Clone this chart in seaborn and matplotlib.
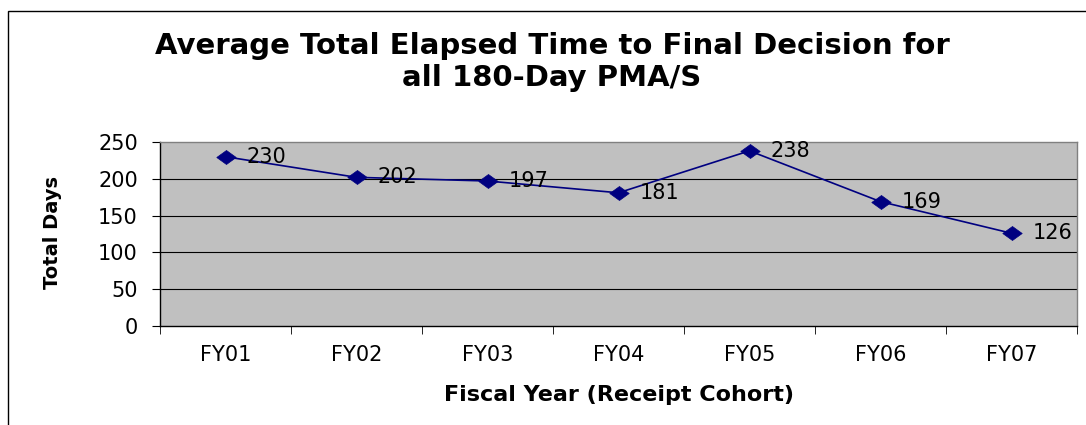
import matplotlib
matplotlib.use("Agg")
import matplotlib.pyplot as plt
import seaborn as sns
import pandas as pd
import numpy as np
from matplotlib.patches import Rectangle

years = ["FY01", "FY02", "FY03", "FY04", "FY05", "FY06", "FY07"]
total_days = [230, 202, 197, 181, 238, 169, 126]

df = pd.DataFrame({"year": years, "days": total_days})
df["pos"] = np.arange(len(years))

sns.set_style("white")
plt.rcParams["font.family"] = ["DejaVu Sans"]
plt.rcParams["text.color"] = "black"
plt.rcParams["axes.labelcolor"] = "black"
plt.rcParams["xtick.color"] = "black"
plt.rcParams["ytick.color"] = "black"

fig = plt.figure(figsize=(10.86, 4.25), dpi=100)
ax = fig.add_axes([160 / 1086, 1 - 326 / 425, 917 / 1086, 184 / 425])
ax.set_facecolor("#C0C0C0")

for v in [50, 100, 150, 200]:
    ax.axhline(v, color="black", lw=0.8, zorder=1)

# wide diamond like the stretched Excel marker
diamond = [(-1, 0), (0, 0.72), (1, 0), (0, -0.72), (-1, 0)]
sns.lineplot(data=df, x="pos", y="days", sort=False, color="#000080",
             lw=1.2, marker=diamond, markersize=14, markeredgecolor="#000080",
             markeredgewidth=0.5, ax=ax, zorder=3)

for p, v in zip(df["pos"], df["days"]):
    ax.annotate(str(v), (p, v), xytext=(15, 0), textcoords="offset points",
                fontsize=15, va="center", ha="left", color="black", zorder=4)

ax.set_xlim(-0.5, len(years) - 0.5)
ax.set_ylim(0, 250)
ax.set_yticks([0, 50, 100, 150, 200, 250])
ax.set_xticks(df["pos"])
ax.set_xticklabels(years)
ax.set_xticks(np.arange(-0.5, len(years)), minor=True)
ax.tick_params(axis="x", which="major", length=0, labelsize=15, pad=14)
ax.tick_params(axis="x", which="minor", length=6, color="black", direction="out", bottom=True)
ax.tick_params(axis="y", length=6, color="black", direction="out", left=True, labelsize=15, pad=10)

for side in ["top", "right"]:
    ax.spines[side].set_color("#808080")
    ax.spines[side].set_linewidth(1)
for side in ["left", "bottom"]:
    ax.spines[side].set_color("black")
    ax.spines[side].set_linewidth(1)

ax.set_xlabel("Fiscal Year (Receipt Cohort)", fontsize=16, fontweight="bold", labelpad=14)
ax.set_ylabel("Total Days", fontsize=14, fontweight="bold")
ax.yaxis.set_label_coords(-0.107, 0.51)

fig.text(552 / 1086, 1 - 62 / 425,
         "Average Total Elapsed Time to Final Decision for\nall 180-Day PMA/S",
         ha="center", va="center", fontsize=21, fontweight="bold", linespacing=1.15)

fig.patches.append(Rectangle((8 / 1086, -0.1), 1.2, 1 - 11 / 425 + 0.1,
                             transform=fig.transFigure, fill=False,
                             edgecolor="black", lw=1))

fig.savefig("out.png", dpi=100)
